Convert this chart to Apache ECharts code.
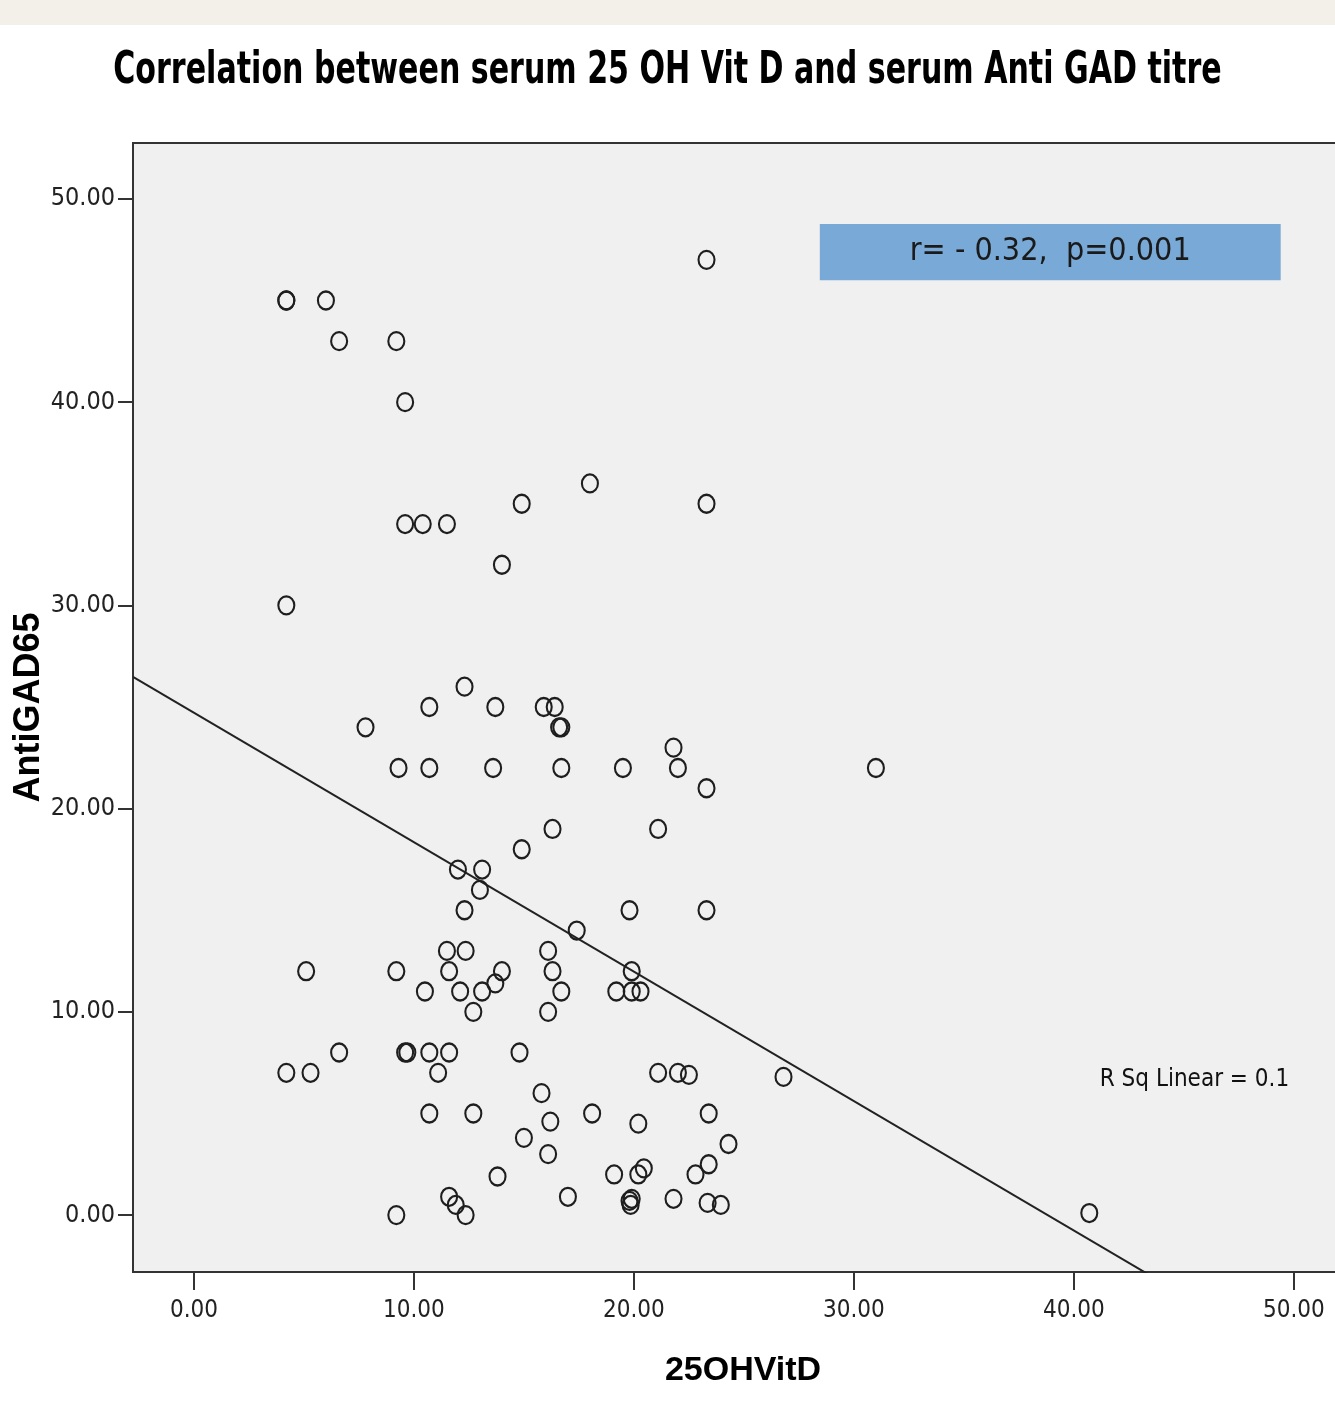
<!DOCTYPE html>
<html>
<head>
<meta charset="utf-8">
<title>25 OH Vit D vs Anti GAD</title>
<script src="https://cdn.jsdelivr.net/npm/echarts@6/dist/echarts.min.js"></script>
<style>
  html, body { margin: 0; padding: 0; background: #fff; }
  #myScatterChart { width: 1335px; height: 1409px; }
</style>
</head>
<body>
<div id="myScatterChart"></div>
<script>
// 25OHVitD (x) and AntiGAD65 (y)
const vitD = [
  23.3, 4.2, 4.2, 6.0, 6.6, 9.2, 9.6, 18.0, 14.9, 23.3,
  9.6, 10.4, 11.5, 14.0, 4.2, 12.3, 10.7, 13.7, 15.9, 16.4,
  16.6, 16.7, 7.8, 21.8, 9.3, 10.7, 13.6, 16.7, 19.5, 22.0,
  31.0, 23.3, 16.3, 21.1, 14.9, 12.0, 13.1, 13.0, 12.3, 19.8,
  23.3, 17.4, 11.5, 12.35, 16.1, 5.1, 9.2, 11.6, 14.0, 16.3,
  19.9, 13.7, 10.5, 12.1, 13.1, 16.7, 19.2, 19.9, 20.3, 12.7,
  16.1, 6.6, 9.6, 9.7, 10.7, 11.6, 14.8, 4.2, 5.3, 11.1,
  21.1, 22.0, 22.5, 26.8, 15.8, 10.7, 12.7, 18.1, 23.4, 16.2,
  20.2, 15.0, 24.3, 16.1, 23.4, 20.45, 19.1, 20.2, 22.8, 13.8,
  11.6, 17.0, 21.8, 19.8, 19.9, 19.85, 23.35, 23.95, 11.9, 12.35,
  9.2, 40.7
];
const antiGAD = [
  47, 45, 45, 45, 43, 43, 40, 36, 35, 35,
  34, 34, 34, 32, 30, 26, 25, 25, 25, 25,
  24, 24, 24, 23, 22, 22, 22, 22, 22, 22,
  22, 21, 19, 19, 18, 17, 17, 16, 15, 15,
  15, 14, 13, 13, 13, 12, 12, 12, 12, 12,
  12, 11.4, 11, 11, 11, 11, 11, 11, 11, 10,
  10, 8, 8, 8, 8, 8, 8, 7, 7, 7,
  7, 7, 6.9, 6.8, 6, 5, 5, 5, 5, 4.6,
  4.5, 3.8, 3.5, 3, 2.5, 2.3, 2, 2, 2, 1.9,
  0.9, 0.9, 0.8, 0.7, 0.8, 0.5, 0.6, 0.5, 0.5, 0,
  0, 0.1
];

// fit line (y = a + b*x)
const fitIntercept = 24.72;
const fitSlope = -0.637;

const xTicks = [0, 10, 20, 30, 40, 50];
const yTicks = [0, 10, 20, 30, 40, 50];

const xMin = -2.77, xMax = 51.96;
const yMin = -2.8, yMax = 52.75;

const titleText = 'Correlation between serum 25 OH Vit D and serum Anti GAD titre';
const statText = 'r= - 0.32,  p=0.001';
const rsqText = 'R Sq Linear = 0.1';

const narrow = "'Liberation Sans Narrow', 'DejaVu Sans Condensed', sans-serif";
const wide = "'Liberation Sans', Arial, sans-serif";

function initChart() {
  let points = vitD.map((v, i) => [v, antiGAD[i]]);
  let fitLine = [
    [xMin, fitIntercept + fitSlope * xMin],
    [xMax, fitIntercept + fitSlope * xMax]
  ];

  let option = {
    animation: false,
    backgroundColor: '#ffffff',
    graphic: [
      {
        type: 'rect',
        left: 0, top: 0,
        shape: { width: 1335, height: 25 },
        style: { fill: '#f3f0e9' },
        z: -1
      },
      {
        // title, squeezed horizontally like the original
        type: 'text',
        x: 667.5,
        y: 72,
        scaleX: 0.76,
        style: {
          text: titleText,
          align: 'center',
          verticalAlign: 'middle',
          fontFamily: narrow,
          fontWeight: 'bold',
          fontSize: 44,
          fill: '#000'
        }
      }
    ],
    grid: {
      left: 133,
      right: -2,
      top: 143,
      bottom: 137,
      outerBoundsMode: 'none',
      containLabel: false,
      show: true,
      backgroundColor: '#f0f0f0',
      borderColor: '#333',
      borderWidth: 2
    },
    xAxis: {
      type: 'value',
      min: xMin,
      max: xMax,
      name: '25OHVitD',
      nameLocation: 'middle',
      nameGap: 82,
      nameTextStyle: {
        fontFamily: wide,
        fontWeight: 'bold',
        fontSize: 34,
        color: '#000',
        padding: [0, 0, 0, 16]
      },
      axisLine: { show: true, onZero: false, lineStyle: { color: '#333', width: 2 } },
      axisTick: { show: true, length: 18, customValues: xTicks, lineStyle: { color: '#333', width: 2 } },
      axisLabel: {
        customValues: xTicks,
        margin: 27,
        fontFamily: narrow,
        fontSize: 24,
        color: '#222',
        formatter: v => v.toFixed(2)
      },
      splitLine: { show: false }
    },
    yAxis: {
      type: 'value',
      min: yMin,
      max: yMax,
      name: 'AntiGAD65',
      nameLocation: 'middle',
      nameGap: 86,
      nameMoveOverlap: false,
      nameTextStyle: {
        fontFamily: wide,
        fontWeight: 'bold',
        fontSize: 36,
        color: '#000'
      },
      axisLine: { show: true, onZero: false, lineStyle: { color: '#333', width: 2 } },
      axisTick: { show: true, length: 15, customValues: yTicks, lineStyle: { color: '#333', width: 2 } },
      axisLabel: {
        customValues: yTicks,
        margin: 18,
        fontFamily: narrow,
        fontSize: 25,
        color: '#222',
        formatter: v => v.toFixed(2)
      },
      splitLine: { show: false }
    },
    series: [
      {
        name: 'fit',
        type: 'line',
        data: fitLine,
        symbol: 'none',
        clip: true,
        lineStyle: { color: '#222', width: 2 },
        z: 2
      },
      {
        name: 'AntiGAD65',
        type: 'scatter',
        data: points,
        symbol: 'circle',
        symbolSize: [16, 18],
        itemStyle: {
          color: 'rgba(0,0,0,0)',
          borderColor: '#1e1e1e',
          borderWidth: 2.2,
          opacity: 1
        },
        z: 3,
        markArea: {
          silent: true,
          itemStyle: { color: '#79a9d6', opacity: 1, borderWidth: 0 },
          label: {
            show: true,
            position: 'inside',
            fontFamily: narrow,
            fontSize: 32,
            color: '#1a1a1a'
          },
          data: [[
            { name: statText, coord: [28.45, 48.77] },
            { coord: [49.4, 46.0] }
          ]]
        },
        markPoint: {
          silent: true,
          symbol: 'circle',
          symbolSize: 0,
          label: {
            show: true,
            position: 'inside',
            fontFamily: narrow,
            fontSize: 24,
            color: '#111',
            formatter: rsqText
          },
          data: [{ coord: [45.48, 6.64] }]
        }
      }
    ]
  };

  let myChart = echarts.init(document.querySelector('#myScatterChart'));
  myChart.setOption(option);
}

initChart();
</script>
</body>
</html>
